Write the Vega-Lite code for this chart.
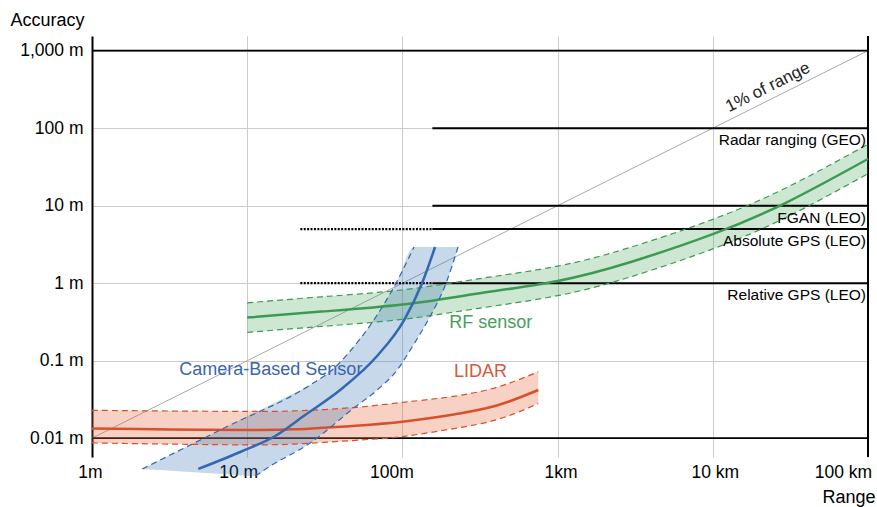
{
  "$schema": "https://vega.github.io/schema/vega-lite/v6.json",
  "width": 776,
  "height": 421,
  "autosize": {"type": "none"},
  "padding": {"left": 92, "top": 36, "right": 9, "bottom": 50},
  "background": "white",
  "config": {"font": "Liberation Sans", "view": {"stroke": null}},
  "datasets": {
    "diag": [{"x": 1, "y": 0.01}, {"x": 100000, "y": 1000}],
    "frameH": [{"y": 1000}, {"y": 0.01}],
    "frameV": [{"x": 100000}],
    "lidar": [
      {"x": 1, "y": 0.0133, "lo": 0.0087, "hi": 0.0229},
      {"x": 2, "y": 0.0131, "lo": 0.0085, "hi": 0.0226},
      {"x": 5, "y": 0.0129, "lo": 0.0083, "hi": 0.0223},
      {"x": 10, "y": 0.0128, "lo": 0.0082, "hi": 0.0222},
      {"x": 20, "y": 0.013, "lo": 0.0084, "hi": 0.0225},
      {"x": 50, "y": 0.0145, "lo": 0.0094, "hi": 0.025},
      {"x": 100, "y": 0.0163, "lo": 0.0105, "hi": 0.029},
      {"x": 200, "y": 0.0198, "lo": 0.013, "hi": 0.034},
      {"x": 400, "y": 0.0262, "lo": 0.0172, "hi": 0.045},
      {"x": 751, "y": 0.0419, "lo": 0.028, "hi": 0.0721}
    ],
    "rf": [
      {"x": 10, "y": 0.36, "lo": 0.232, "hi": 0.558},
      {"x": 30, "y": 0.43, "lo": 0.277, "hi": 0.667},
      {"x": 100, "y": 0.53, "lo": 0.342, "hi": 0.82},
      {"x": 300, "y": 0.73, "lo": 0.47, "hi": 1.13},
      {"x": 1000, "y": 1.07, "lo": 0.69, "hi": 1.66},
      {"x": 3000, "y": 1.895, "lo": 1.22, "hi": 2.94},
      {"x": 10000, "y": 4.3, "lo": 2.77, "hi": 6.67},
      {"x": 30000, "y": 11.07, "lo": 7.14, "hi": 17.2},
      {"x": 100000, "y": 40.1, "lo": 25.9, "hi": 62.2}
    ],
    "camBand": [
      {"x": 2.108, "lo": 0.004004, "hi": 0.004004},
      {"x": 3.989, "lo": 0.003695, "hi": 0.007586},
      {"x": 7.325, "lo": 0.003431, "hi": 0.01395},
      {"x": 11.26, "lo": 0.003252, "hi": 0.02146},
      {"x": 13.45, "lo": 0.004125, "hi": 0.02565},
      {"x": 18.92, "lo": 0.006143, "hi": 0.03609},
      {"x": 25.45, "lo": 0.008672, "hi": 0.04859},
      {"x": 35.8, "lo": 0.01498, "hi": 0.07815},
      {"x": 49.6, "lo": 0.02527, "hi": 0.1609},
      {"x": 68.74, "lo": 0.04187, "hi": 0.3958},
      {"x": 92.46, "lo": 0.07586, "hi": 1.067},
      {"x": 118.9, "lo": 0.1662, "hi": 2.931},
      {"x": 146.4, "lo": 0.335, "hi": 2.931},
      {"x": 191.2, "lo": 1.006, "hi": 2.931},
      {"x": 228.4, "lo": 2.931, "hi": 2.931}
    ],
    "camCenter": [
      {"x": 4.84, "y": 0.00401},
      {"x": 9.02, "y": 0.00664},
      {"x": 15.15, "y": 0.01068},
      {"x": 23.6, "y": 0.01993},
      {"x": 39.7, "y": 0.0419},
      {"x": 68.7, "y": 0.115},
      {"x": 102.6, "y": 0.335},
      {"x": 134, "y": 1.006},
      {"x": 162.4, "y": 2.93}
    ],
    "camLeft": [
      {"x": 2.108, "y": 0.004004},
      {"x": 7.325, "y": 0.01395},
      {"x": 25.45, "y": 0.04859},
      {"x": 35.8, "y": 0.07815},
      {"x": 46.7, "y": 0.1374},
      {"x": 64.8, "y": 0.3254},
      {"x": 91.1, "y": 1.006},
      {"x": 118.9, "y": 2.931}
    ],
    "camRight": [
      {"x": 11.26, "y": 0.003252},
      {"x": 13.45, "y": 0.004125},
      {"x": 25.45, "y": 0.008672},
      {"x": 49.6, "y": 0.02527},
      {"x": 68.74, "y": 0.04187},
      {"x": 92.46, "y": 0.07586},
      {"x": 115.5, "y": 0.1502},
      {"x": 146.4, "y": 0.335},
      {"x": 191.2, "y": 1.006},
      {"x": 228.4, "y": 2.931}
    ],
    "refSolid": [
      {"x": 156, "x2": 100000, "y": 100},
      {"x": 156, "x2": 100000, "y": 10},
      {"x": 156, "x2": 100000, "y": 5},
      {"x": 156, "x2": 100000, "y": 1}
    ],
    "refDotted": [
      {"x": 22, "x2": 156, "y": 5},
      {"x": 22, "x2": 156, "y": 1}
    ],
    "refLabels": [
      {"label": "Radar ranging (GEO)", "y": 100},
      {"label": "FGAN (LEO)", "y": 10},
      {"label": "Absolute GPS (LEO)", "y": 5},
      {"label": "Relative GPS (LEO)", "y": 1}
    ],
    "seriesLabels": [
      {"label": "Camera-Based Sensor", "x": 14.2, "y": 0.0759, "series": "Camera"},
      {"label": "LIDAR", "x": 319, "y": 0.0721, "series": "LIDAR"},
      {"label": "RF sensor", "x": 371.5, "y": 0.304, "series": "RF"}
    ],
    "diagLabel": [{"label": "1% of range", "x": 24500, "y": 245}]
  },
  "layer": [
    {
      "data": {"name": "diag"},
      "mark": {"type": "line", "color": "#aaaaaa", "strokeWidth": 1},
      "encoding": {
        "x": {
          "field": "x", "type": "quantitative",
          "scale": {"type": "log", "domain": [1, 100000], "nice": false},
          "axis": {
            "values": [1, 10, 100, 1000, 10000, 100000],
            "labelExpr": "datum.value < 5 ? '1m' : datum.value < 50 ? '10 m' : datum.value < 500 ? '100m' : datum.value < 5000 ? '1km' : datum.value < 50000 ? '10 km' : '100 km'",
            "title": "Range", "titleX": 730, "titleY": 40, "titleAlign": "left", "titleBaseline": "middle", "titleAngle": 0,
            "titleFontSize": 18, "titleFontWeight": "normal", "titleColor": "black",
            "labelFontSize": 17.5, "labelColor": "black", "labelPadding": 6, "labelOverlap": false, "labelFlush": false,
            "labelOffset": {"condition": [
              {"test": "datum.value < 5", "value": -2},
              {"test": "datum.value < 50", "value": -9},
              {"test": "datum.value < 500", "value": -11},
              {"test": "datum.value < 5000", "value": 3},
              {"test": "datum.value < 50000", "value": 2}
            ], "value": -25},
            "domain": false, "ticks": false, "grid": true, "gridColor": "#cccccc", "gridWidth": 1
          }
        },
        "y": {
          "field": "y", "type": "quantitative",
          "scale": {"type": "log", "domain": [0.005721, 1548], "nice": false},
          "axis": {
            "values": [0.01, 0.1, 1, 10, 100, 1000],
            "labelExpr": "datum.value >= 500 ? '1,000 m' : datum.value >= 50 ? '100 m' : datum.value >= 5 ? '10 m' : datum.value >= 0.5 ? '1 m' : datum.value >= 0.05 ? '0.1 m' : '0.01 m'",
            "title": "Accuracy", "titleX": -82, "titleY": -16, "titleAlign": "left", "titleBaseline": "middle", "titleAngle": 0,
            "titleFontSize": 18, "titleFontWeight": "normal", "titleColor": "black",
            "labelFontSize": 17.5, "labelColor": "black", "labelPadding": 9, "labelOverlap": false, "labelFlush": false,
            "domain": true, "domainColor": "black", "domainWidth": 2, "ticks": false,
            "grid": true, "gridColor": "#cccccc", "gridWidth": 1
          }
        }
      }
    },
    {
      "data": {"name": "frameH"},
      "mark": {"type": "rule", "color": "black", "strokeWidth": 1.8},
      "encoding": {"y": {"field": "y", "type": "quantitative"}}
    },
    {
      "data": {"name": "frameV"},
      "mark": {"type": "rule", "color": "black", "strokeWidth": 2},
      "encoding": {"x": {"field": "x", "type": "quantitative"}}
    },
    {
      "data": {"name": "lidar"},
      "mark": {"type": "area", "color": "#e46a3a", "opacity": 0.3, "interpolate": "natural"},
      "encoding": {"x": {"field": "x", "type": "quantitative"}, "y": {"field": "lo", "type": "quantitative"}, "y2": {"field": "hi"}}
    },
    {
      "data": {"name": "rf"},
      "mark": {"type": "area", "color": "#3aa050", "opacity": 0.25, "interpolate": "natural"},
      "encoding": {"x": {"field": "x", "type": "quantitative"}, "y": {"field": "lo", "type": "quantitative"}, "y2": {"field": "hi"}}
    },
    {
      "data": {"name": "camBand"},
      "mark": {"type": "area", "color": "#2e6fb0", "opacity": 0.27, "interpolate": "monotone"},
      "encoding": {"x": {"field": "x", "type": "quantitative"}, "y": {"field": "lo", "type": "quantitative"}, "y2": {"field": "hi"}}
    },
    {
      "data": {"name": "refDotted"},
      "mark": {"type": "rule", "color": "black", "strokeWidth": 2.2, "strokeDash": [2, 1.4]},
      "encoding": {"x": {"field": "x", "type": "quantitative"}, "x2": {"field": "x2"}, "y": {"field": "y", "type": "quantitative"}}
    },
    {
      "data": {"name": "refSolid"},
      "mark": {"type": "rule", "color": "black", "strokeWidth": 2},
      "encoding": {"x": {"field": "x", "type": "quantitative"}, "x2": {"field": "x2"}, "y": {"field": "y", "type": "quantitative"}}
    },
    {
      "data": {"name": "lidar"},
      "mark": {"type": "line", "color": "#d9502c", "strokeWidth": 1.2, "strokeDash": [6, 4], "interpolate": "natural"},
      "encoding": {"x": {"field": "x", "type": "quantitative"}, "y": {"field": "lo", "type": "quantitative"}}
    },
    {
      "data": {"name": "lidar"},
      "mark": {"type": "line", "color": "#d9502c", "strokeWidth": 1.2, "strokeDash": [6, 4], "interpolate": "natural"},
      "encoding": {"x": {"field": "x", "type": "quantitative"}, "y": {"field": "hi", "type": "quantitative"}}
    },
    {
      "data": {"name": "lidar"},
      "mark": {"type": "line", "color": "#d9502c", "strokeWidth": 2.5, "interpolate": "natural"},
      "encoding": {"x": {"field": "x", "type": "quantitative"}, "y": {"field": "y", "type": "quantitative"}}
    },
    {
      "data": {"name": "rf"},
      "mark": {"type": "line", "color": "#3d9a52", "strokeWidth": 1.2, "strokeDash": [6, 4], "interpolate": "natural"},
      "encoding": {"x": {"field": "x", "type": "quantitative"}, "y": {"field": "lo", "type": "quantitative"}}
    },
    {
      "data": {"name": "rf"},
      "mark": {"type": "line", "color": "#3d9a52", "strokeWidth": 1.2, "strokeDash": [6, 4], "interpolate": "natural"},
      "encoding": {"x": {"field": "x", "type": "quantitative"}, "y": {"field": "hi", "type": "quantitative"}}
    },
    {
      "data": {"name": "rf"},
      "mark": {"type": "line", "color": "#3d9a52", "strokeWidth": 2.5, "interpolate": "natural"},
      "encoding": {"x": {"field": "x", "type": "quantitative"}, "y": {"field": "y", "type": "quantitative"}}
    },
    {
      "data": {"name": "camLeft"},
      "mark": {"type": "line", "color": "#3366b3", "strokeWidth": 1.2, "strokeDash": [6, 4], "interpolate": "monotone"},
      "encoding": {"x": {"field": "x", "type": "quantitative"}, "y": {"field": "y", "type": "quantitative"}}
    },
    {
      "data": {"name": "camRight"},
      "mark": {"type": "line", "color": "#3366b3", "strokeWidth": 1.2, "strokeDash": [6, 4], "interpolate": "monotone"},
      "encoding": {"x": {"field": "x", "type": "quantitative"}, "y": {"field": "y", "type": "quantitative"}}
    },
    {
      "data": {"name": "camCenter"},
      "mark": {"type": "line", "color": "#3366b3", "strokeWidth": 2.5, "interpolate": "monotone"},
      "encoding": {"x": {"field": "x", "type": "quantitative"}, "y": {"field": "y", "type": "quantitative"}}
    },
    {
      "data": {"name": "refLabels"},
      "mark": {"type": "text", "align": "right", "baseline": "middle", "dx": -2, "dy": 12, "fontSize": 15.5, "color": "black"},
      "encoding": {"x": {"datum": 100000, "type": "quantitative"}, "y": {"field": "y", "type": "quantitative"}, "text": {"field": "label"}}
    },
    {
      "data": {"name": "seriesLabels"},
      "mark": {"type": "text", "align": "center", "baseline": "middle", "fontSize": 18},
      "encoding": {
        "x": {"field": "x", "type": "quantitative"},
        "y": {"field": "y", "type": "quantitative"},
        "text": {"field": "label"},
        "color": {"field": "series", "type": "nominal", "scale": {"domain": ["Camera", "LIDAR", "RF"], "range": ["#3a65ae", "#d9573a", "#45a05a"]}, "legend": null}
      }
    },
    {
      "data": {"name": "diagLabel"},
      "mark": {"type": "text", "align": "center", "baseline": "middle", "angle": -26.5, "dy": -12, "fontSize": 17, "color": "#222222"},
      "encoding": {"x": {"field": "x", "type": "quantitative"}, "y": {"field": "y", "type": "quantitative"}, "text": {"field": "label"}}
    }
  ]
}
